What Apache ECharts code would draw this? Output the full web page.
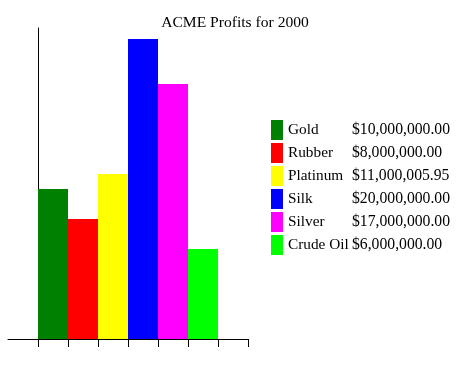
<!DOCTYPE html>
<html>
<head>
<meta charset="utf-8">
<script src="https://cdn.jsdelivr.net/npm/echarts@6/dist/echarts.min.js"></script>
<style>
html,body{margin:0;padding:0;background:#fff;}
#chart{width:471px;height:369px;}
</style>
</head>
<body>
<div id="chart"></div>
<script>
var titleText = "ACME Profits for 2000";
var categories = ["Gold", "Rubber", "Platinum", "Silk", "Silver", "Crude Oil"];
var values = [10000000.00, 8000000.00, 11000005.95, 20000000.00, 17000000.00, 6000000.00];
var colors = ["#008000", "#ff0000", "#ffff00", "#0000ff", "#ff00ff", "#00ff00"];

var slots = categories.concat([""]);
var FONT = "'Liberation Serif', 'Times New Roman', serif";

function money(v) {
  var parts = v.toFixed(2).split(".");
  return "$" + parts[0].replace(/\B(?=(\d{3})+(?!\d))/g, ",") + "." + parts[1];
}

var series = categories.map(function (name, i) {
  var d = slots.map(function (_, j) { return j === i ? values[i] : null; });
  return {
    name: name,
    type: "bar",
    stack: "all",
    barWidth: "100%",
    barCategoryGap: 0,
    data: d,
    itemStyle: { color: colors[i] },
    silent: true,
    animation: false
  };
});

var chart = echarts.init(document.getElementById("chart"), null, { renderer: "canvas" });
chart.setOption({
  animation: false,
  backgroundColor: "#ffffff",
  title: {
    text: titleText,
    left: 230,
    top: 10,
    textAlign: "center",
    textStyle: { fontFamily: FONT, fontSize: 15.6, fontWeight: "normal", color: "#000" }
  },
  legend: {
    orient: "vertical",
    left: 271,
    top: 120,
    padding: 0,
    itemWidth: 12,
    itemHeight: 20,
    itemGap: 3,
    icon: "rect",
    selectedMode: false,
    data: categories,
    formatter: function (name) {
      var i = categories.indexOf(name);
      return "{n|" + name + "}{v|" + money(values[i]) + "}";
    },
    textStyle: {
      fontFamily: FONT, fontSize: 15.5, color: "#000",
      rich: {
        n: { fontFamily: FONT, fontSize: 15.3, width: 64, color: "#000" },
        v: { fontFamily: FONT, fontSize: 15.7, color: "#000" }
      }
    }
  },
  grid: [
    { left: 38, top: 28, width: 210, bottom: 30, containLabel: false },
    { left: 8, top: 28, width: 240, bottom: 30, containLabel: false }
  ],
  xAxis: [
    {
      type: "category",
      gridIndex: 0,
      data: slots,
      boundaryGap: true,
      axisLine: { show: true, lineStyle: { color: "#000", width: 1 } },
      axisTick: { show: true, length: 8, interval: 0, alignWithLabel: false, lineStyle: { color: "#000", width: 1 } },
      axisLabel: { show: false },
      splitLine: { show: false }
    },
    {
      type: "value",
      gridIndex: 1,
      min: 0, max: 1,
      axisLine: { show: true, lineStyle: { color: "#000", width: 1 } },
      axisTick: { show: false },
      axisLabel: { show: false },
      splitLine: { show: false }
    }
  ],
  yAxis: [
    {
      type: "value",
      gridIndex: 0,
      min: 0,
      max: 311 / 15 * 1000000,
      axisLine: { show: true, lineStyle: { color: "#000", width: 1 } },
      axisTick: { show: false },
      axisLabel: { show: false },
      splitLine: { show: false }
    },
    {
      type: "value",
      gridIndex: 1,
      min: 0, max: 1,
      show: false
    }
  ],
  series: series
});
</script>
</body>
</html>
